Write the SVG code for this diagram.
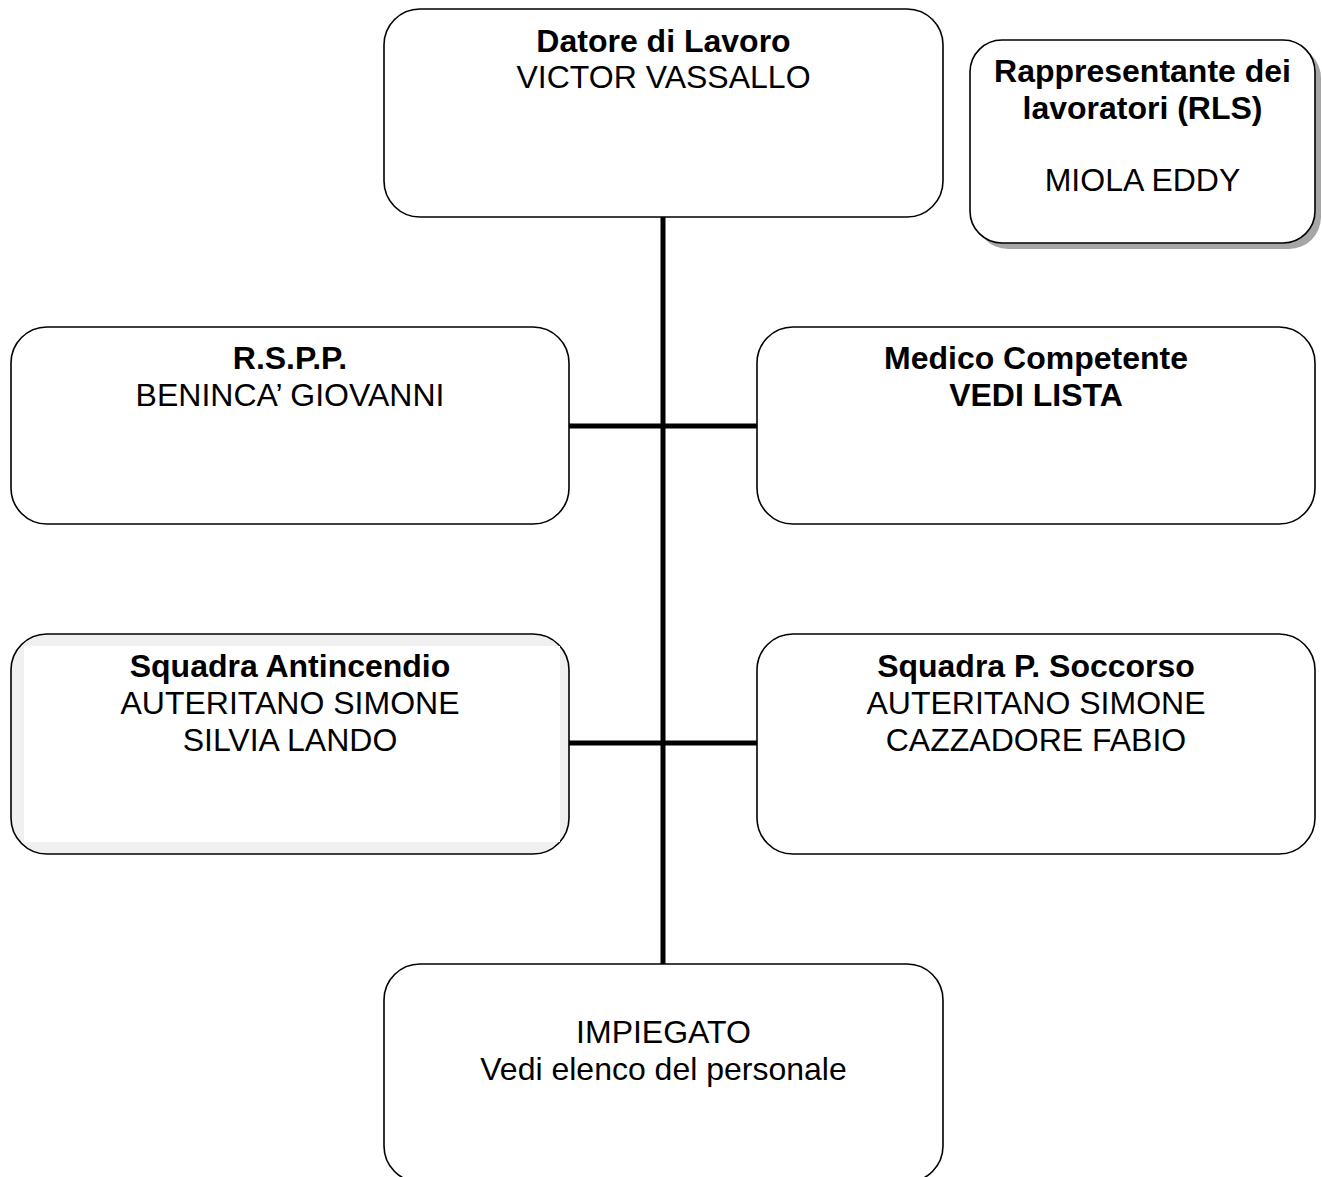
<svg xmlns="http://www.w3.org/2000/svg" width="1322" height="1177" viewBox="0 0 1322 1177">
<style>
.box{fill:#fff;stroke:#000;stroke-width:1.6}
.t{font-family:"Liberation Sans",Arial,sans-serif;font-size:32px;fill:#000;text-anchor:middle}
.b{font-weight:bold}
.conn{stroke:#000;stroke-width:5;fill:none}
</style>
<rect width="1322" height="1177" fill="#fff"/>
<g id="connectors">
<line class="conn" x1="663" y1="217" x2="663" y2="964"/>
<line class="conn" x1="569" y1="426" x2="757" y2="426"/>
<line class="conn" x1="569" y1="743" x2="757" y2="743"/>
</g>
<g id="datore">
<rect class="box" x="384" y="9" width="559" height="208" rx="36"/>
<text class="t b" x="663.5" y="52">Datore di Lavoro</text>
<text class="t" x="663.5" y="88">VICTOR VASSALLO</text>
</g>
<g id="rls">
<rect x="976" y="46" width="345" height="203" rx="32" fill="#a6a6a6"/>
<rect class="box" x="970" y="40" width="345" height="203" rx="32"/>
<text class="t b" x="1142.5" y="82">Rappresentante dei</text>
<text class="t b" x="1142.5" y="119">lavoratori (RLS)</text>
<text class="t" x="1142.5" y="191">MIOLA EDDY</text>
</g>
<g id="rspp">
<rect class="box" x="11" y="327" width="558" height="197" rx="36"/>
<text class="t b" x="290" y="369">R.S.P.P.</text>
<text class="t" x="290" y="406">BENINCA’ GIOVANNI</text>
</g>
<g id="medico">
<rect class="box" x="757" y="327" width="558" height="197" rx="36"/>
<text class="t b" x="1036" y="369">Medico Competente</text>
<text class="t b" x="1036" y="406">VEDI LISTA</text>
</g>
<g id="antincendio">
<rect class="box" x="11" y="634" width="558" height="220" rx="36" style="fill:#f0f0f0"/>
<rect x="24" y="646" width="536" height="196" fill="#fff"/>
<text class="t b" x="290" y="677">Squadra Antincendio</text>
<text class="t" x="290" y="714">AUTERITANO SIMONE</text>
<text class="t" x="290" y="751">SILVIA LANDO</text>
</g>
<g id="soccorso">
<rect class="box" x="757" y="634" width="558" height="220" rx="36"/>
<text class="t b" x="1036" y="677">Squadra P. Soccorso</text>
<text class="t" x="1036" y="714">AUTERITANO SIMONE</text>
<text class="t" x="1036" y="751">CAZZADORE FABIO</text>
</g>
<g id="impiegato">
<rect class="box" x="384" y="964" width="559" height="218" rx="36"/>
<text class="t" x="663.5" y="1043">IMPIEGATO</text>
<text class="t" x="663.5" y="1080">Vedi elenco del personale</text>
</g>
</svg>
